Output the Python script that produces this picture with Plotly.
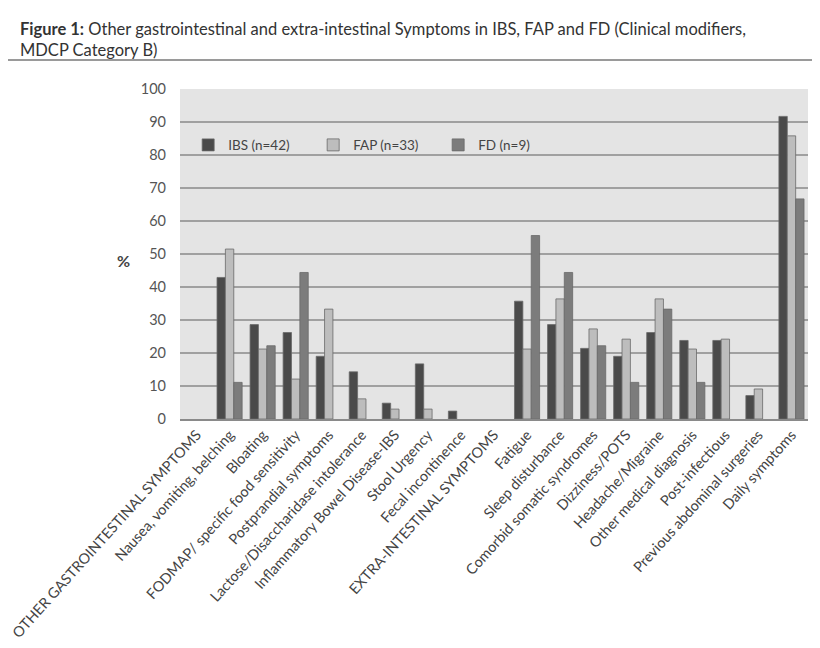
import plotly.graph_objects as go

categories = [
    "OTHER GASTROINTESTINAL SYMPTOMS",
    "Nausea, vomiting, belching",
    "Bloating",
    "FODMAP/ specific food sensitivity",
    "Postprandial symptoms",
    "Lactose/Disaccharidase intolerance",
    "Inflammatory Bowel Disease-IBS",
    "Stool Urgency",
    "Fecal incontinence",
    "EXTRA-INTESTINAL SYMPTOMS",
    "Fatigue",
    "Sleep disturbance",
    "Comorbid somatic syndromes",
    "Dizziness/POTS",
    "Headache/Migraine",
    "Other medical diagnosis",
    "Post-infectious",
    "Previous abdominal surgeries",
    "Daily symptoms",
]

ibs = [None, 42.9, 28.6, 26.2, 19.0, 14.3, 4.8, 16.7, 2.4, None, 35.7, 28.6, 21.4, 19.0, 26.2, 23.8, 23.8, 7.1, 91.7]
fap = [None, 51.5, 21.2, 12.1, 33.3, 6.1, 3.0, 3.0, None, None, 21.2, 36.4, 27.3, 24.2, 36.4, 21.2, 24.2, 9.1, 85.8]
fd = [None, 11.1, 22.2, 44.4, None, None, None, None, None, None, 55.6, 44.4, 22.2, 11.1, 33.3, 11.1, None, None, 66.7]

series = [
    ("IBS (n=42)", ibs, "#4a4a4a"),
    ("FAP (n=33)", fap, "#bdbdbd"),
    ("FD (n=9)", fd, "#7c7c7c"),
]

FONT = "Lato, 'Open Sans', sans-serif"

fig = go.Figure()
for name, vals, col in series:
    fig.add_trace(go.Bar(
        x=categories, y=vals, name=name,
        marker=dict(color=col, line=dict(color="#6a6a6a", width=0.8)),
    ))

fig.update_layout(
    width=820, height=648,
    paper_bgcolor="white",
    plot_bgcolor="#e4e4e4",
    barmode="group",
    bargap=0.24,
    bargroupgap=0,
    margin=dict(l=172, r=20, t=81, b=237),
    font=dict(family=FONT, size=13, color="#444"),
    showlegend=True,
    legend=dict(
        orientation="h", x=0.013, y=0.83, xanchor="left", yanchor="middle",
        bgcolor="rgba(0,0,0,0)", font=dict(size=13.5, color="#444"),
        entrywidth=80, entrywidthmode="pixels",
    ),
    xaxis=dict(
        tickangle=-48, showgrid=False, showline=True, linecolor="#8a8a8a",
        linewidth=1.5, ticks="", tickfont=dict(size=14.5, color="#444"),
        automargin=False,
    ),
    yaxis=dict(
        range=[0, 100], dtick=10, showgrid=True, gridcolor="#a0a0a0",
        gridwidth=1.5, zeroline=False, ticks="", ticklen=0,
        tickfont=dict(size=14.5, color="#555"), ticklabelstandoff=13,
        automargin=False,
    ),
    annotations=[
        dict(
            text="<b>Figure 1:</b> Other gastrointestinal and extra-intestinal Symptoms in IBS, FAP and FD (Clinical modifiers,<br>MDCP Category B)",
            x=0, y=1.15, xref="paper", yref="paper", xanchor="left", yanchor="middle",
            xshift=-162, showarrow=False, align="left",
            font=dict(size=16.5, color="#333", family=FONT),
        ),
        dict(
            text="<b>%</b>", x=0, y=0.48, xref="paper", yref="paper",
            xanchor="center", yanchor="middle", xshift=-57, showarrow=False,
            font=dict(size=16, color="#444", family=FONT),
        ),
    ],
    shapes=[
        dict(type="line", xref="paper", yref="paper", x0=-0.274, x1=1.011,
             y0=1.088, y1=1.088, line=dict(color="#9a9a9a", width=2)),
    ],
)

fig.write_html("out.html")
